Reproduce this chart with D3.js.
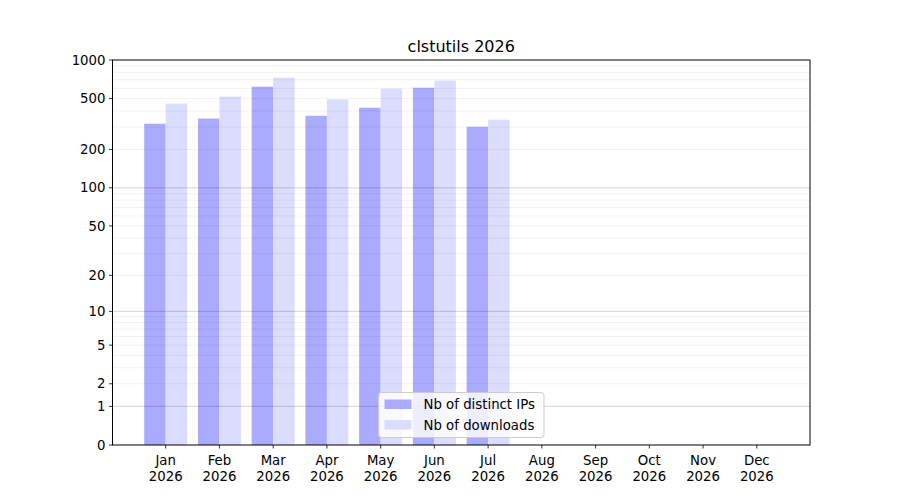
<!DOCTYPE html>
<html>
<head>
<meta charset="utf-8">
<script src="https://cdn.jsdelivr.net/npm/d3@7"></script>
<style>
  body { margin: 0; background: #fff; }
  text { font-family: "DejaVu Sans", sans-serif; fill: #000; }
</style>
</head>
<body>
<div id="chart"></div>
<script>
const months = ["Jan", "Feb", "Mar", "Apr", "May", "Jun", "Jul", "Aug", "Sep", "Oct", "Nov", "Dec"];
const year = "2026";
const distinctIps = [318, 349, 619, 367, 424, 608, 301, 0, 0, 0, 0, 0];
const downloads = [457, 518, 728, 493, 597, 690, 342, 0, 0, 0, 0, 0];
const yTicks = [0, 1, 2, 5, 10, 20, 50, 100, 200, 500, 1000];
const majorGrid = [1, 10, 100];
const minorGrid = [2, 3, 4, 5, 6, 7, 8, 9, 20, 30, 40, 50, 60, 70, 80, 90, 200, 300, 400, 500, 600, 700, 800, 900];

const W = 900, H = 500;
const pLeft = 112.5, pRight = 810, pTop = 60, pBottom = 445;

const svg = d3.select("#chart").append("svg")
  .attr("width", W)
  .attr("height", H);

// log(1+x) scale, same as the reference y axis
const tf = v => Math.log10(1 + v);
const y0 = d3.scaleLinear().domain([0, tf(1000)]).range([pBottom, pTop]);
const y = v => y0(tf(v));

const x = d3.scaleLinear().domain([-0.99, 11.99]).range([pLeft, pRight]);
const bw = x(0.4) - x(0);

// bars
svg.append("g").selectAll("rect")
  .data(distinctIps)
  .enter().append("rect")
  .attr("x", (d, i) => x(i - 0.4))
  .attr("width", bw)
  .attr("y", d => y(d))
  .attr("height", d => pBottom - y(d))
  .attr("fill", "#aaaaff");

svg.append("g").selectAll("rect")
  .data(downloads)
  .enter().append("rect")
  .attr("x", (d, i) => x(i))
  .attr("width", bw)
  .attr("y", d => y(d))
  .attr("height", d => pBottom - y(d))
  .attr("fill", "#dcdcff");

// grid on top of bars
svg.append("g").selectAll("line")
  .data(minorGrid)
  .enter().append("line")
  .attr("x1", pLeft).attr("x2", pRight)
  .attr("y1", d => y(d)).attr("y2", d => y(d))
  .attr("stroke", "#000").attr("stroke-opacity", 0.07).attr("stroke-width", 0.8);

svg.append("g").selectAll("line")
  .data(majorGrid)
  .enter().append("line")
  .attr("x1", pLeft).attr("x2", pRight)
  .attr("y1", d => y(d)).attr("y2", d => y(d))
  .attr("stroke", "#000").attr("stroke-opacity", 0.22).attr("stroke-width", 0.8);

// frame
svg.append("rect")
  .attr("x", pLeft).attr("y", pTop)
  .attr("width", pRight - pLeft).attr("height", pBottom - pTop)
  .attr("fill", "none").attr("stroke", "#000").attr("stroke-width", 1);

// y axis
const yAxis = svg.append("g");
yAxis.selectAll("line")
  .data(yTicks)
  .enter().append("line")
  .attr("x1", pLeft - 3.5).attr("x2", pLeft)
  .attr("y1", d => y(d)).attr("y2", d => y(d))
  .attr("stroke", "#000").attr("stroke-width", 0.8);
yAxis.selectAll("text")
  .data(yTicks)
  .enter().append("text")
  .attr("x", pLeft - 7)
  .attr("y", d => y(d))
  .attr("dy", "0.35em")
  .attr("text-anchor", "end")
  .attr("font-size", "13.3px")
  .text(d => d);

// x axis
const xAxis = svg.append("g");
xAxis.selectAll("line")
  .data(months)
  .enter().append("line")
  .attr("x1", (d, i) => x(i)).attr("x2", (d, i) => x(i))
  .attr("y1", pBottom).attr("y2", pBottom + 3.5)
  .attr("stroke", "#000").attr("stroke-width", 0.8);
const xl = xAxis.selectAll("text")
  .data(months)
  .enter().append("text")
  .attr("text-anchor", "middle")
  .attr("font-size", "13.3px");
xl.append("tspan")
  .attr("x", (d, i) => x(i))
  .attr("y", pBottom + 20)
  .text(d => d);
xl.append("tspan")
  .attr("x", (d, i) => x(i))
  .attr("y", pBottom + 35.5)
  .text(year);

// title
svg.append("text")
  .attr("x", (pLeft + pRight) / 2)
  .attr("y", 52)
  .attr("text-anchor", "middle")
  .attr("font-size", "16px")
  .text("clstutils 2026");

// legend
const legend = svg.append("g").attr("transform", "translate(378.5,392.5)");
legend.append("rect")
  .attr("width", 165.5).attr("height", 45)
  .attr("rx", 3)
  .attr("fill", "#fff").attr("fill-opacity", 0.8)
  .attr("stroke", "#ccc").attr("stroke-width", 1);
const entries = [["Nb of distinct IPs", "#aaaaff"], ["Nb of downloads", "#dcdcff"]];
const le = legend.selectAll("g.entry")
  .data(entries)
  .enter().append("g")
  .attr("transform", (d, i) => `translate(6,${7 + i * 20.5})`);
le.append("rect")
  .attr("width", 27).attr("height", 9.5)
  .attr("fill", d => d[1]);
le.append("text")
  .attr("x", 39)
  .attr("y", 5)
  .attr("dy", "0.35em")
  .attr("font-size", "13.3px")
  .text(d => d[0]);
</script>
</body>
</html>
